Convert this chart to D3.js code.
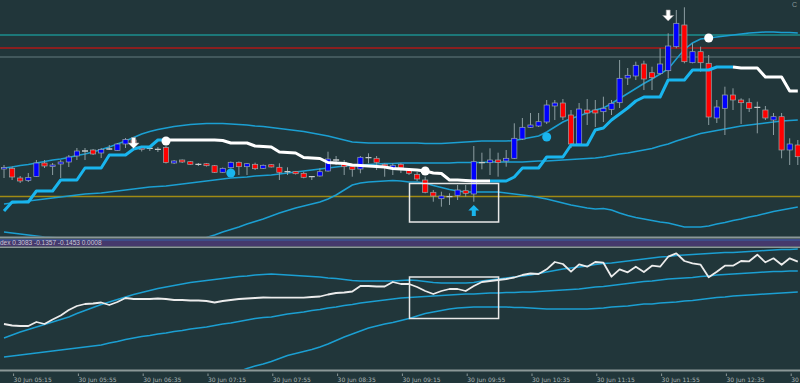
<!DOCTYPE html>
<html><head><meta charset="utf-8">
<script src="https://cdn.jsdelivr.net/npm/d3@7"></script>
<style>html,body{margin:0;padding:0;background:#21363a;overflow:hidden}</style>
</head><body><svg id="c" width="800" height="383"></svg>
<script>
// ---------- DATA ----------
const startTime = "05:10";
const barCount = 99;
const parseT = d3.timeParse("%H:%M"), fmtT = d3.timeFormat("%H:%M");
const times = d3.range(barCount).map(i => fmtT(d3.timeMinute.offset(parseT(startTime), 5 * i)));
const tickTimes = ["05:15","05:55","06:35","07:15","07:55","08:35","09:15","09:55","10:35","11:15","11:55","12:35","13:15"];
const dateLabel = "30 Jun";

const open = [71,71.5,62,59.5,63.5,77,73.5,76,78,84, 89,90,87,91,89.5,96,100,92.7,91.7,90.7,
 92.5,77,80,78.3,75.6,76.3,74.3,67.7,72.3,77.7, 73.3,75.7,71.7,75.3,72.7,68.3,68.3,66.7,63.3,64,
 69,80,77.7,73.3,71,82.3,81.7,75.7,71.7,75.7, 70,65.7,60,47.7,41.3,43.3,44.7,49.3,46,77.3,
 77.3,80,79,81.7,101,112.7,114,118,134,137, 125,96,130,130,128.3,130.7,137.3,162,164,176,
 167.3,166.7,169.3,193.3,215,177.3,188.3,176.7,122,131.7, 145,140,137.3,132.7,130,120,123.3,90,95];
const close = [72.5,63,59,62.5,77,74,75,78,83,89, 89,86,90.5,91,96,100.5,96,90.7,91.7,90.7,
 77.5,79,78,75.7,75.6,74.3,67.7,71.7,77.7,73.3, 76.3,71.3,74.7,73,67.7,68.3,66.3,62.7,63.3,68.3,
 81,80,73.3,70.7,82.7,82.3,77.7,73.3,74.7,72.3, 66.7,61,47.7,44,44,43.3,50,46.7,78.3,77.7,
 80,77.7,81.7,101.7,112.7,115,118.3,135,137,123, 96,131,127,127,131.7,136.7,161.7,164.7,174.7,161,
 162.3,176,194,216.7,178.3,188.3,177.3,123,133,145, 140,137.3,131.7,132.7,122,123.3,90,96,83.3];
const high = [75,73.5,64,67,80,80,77,80,85,92, 92,91,92,95,97,102,101,94,94,93,
 94,80,80.5,79,77,77,75,72.5,78.5,78.5, 77,77.3,75.5,76,76.7,72.7,69,68.3,64,71.7,
 88.3,84,80,75,84,86.7,84,76.7,76.7,77, 72,68,63.3,50,48.3,46.7,55,55,94,87.3,
 91.7,87.3,90,116.7,122,127,127,140,140,141, 130,137,141,140,143.3,140,180,172,178.3,179.3,
 173.3,191.7,206.7,230,232.7,196.7,193.3,185,140,153.3, 151.7,141.7,141.7,138.3,134,127,127,101.7,100];
const low = [62,60,57,58,63,72,65,62,73,80, 80,85,82,90,89,92,95,88.5,89,88,
 76.5,76,77,75,74,73.5,67,67,71.5,65, 65,70,71,72.5,60,65,65.5,61.7,60,63.3,
 68.3,75,65,63.3,66.7,76.7,70,63.3,65,67, 65,59,46.7,38.3,33.3,35,40,43.3,38.3,70.7,
 65,63.3,73.3,81,100,112,113,116,120,120, 92,94,115,113,118,125,132,155,160,150,
 150,165,161.7,191.7,176.7,176.7,168.3,115,117,105, 130,116,128,106.7,120,105,81.7,75,75];

// SuperTrend-like stepped line and the bars where its direction starts
const superTrend = [29,38,38,38,49,49,49,60,60,60, 72,72,72,85,85,85,91,93,93,100,
 100,100,100,100,100,100,100,99.5,97,97, 97,94,93.5,93,88,87.5,87,82.5,82,81.5,
 77.5,77,76.5,75,74.5,74,73.5,73,71.5,71, 70.5,70,69,67,66.5,60,60,59.5,59,59,
 59,59,59,63,72,72,72,83,83,83, 95,95,95,110,112,120,126,132,139,143,
 143,143,160,160,160,170,170,170,173,173, 173,172,172,172,163,163,163,149,149];
const trendStart = [0, 20, 60, 90];
const trendUp = [true, false, true, false];

// Bollinger-style bands on price
const bbUpper = [72,73,74.5,75.5,77,78.5,80,81,82.5,84.5, 86,88,90.5,93,96,99,102.5,106,108.5,110.5,
 112,113.5,114.5,115.5,116,116.5,116.5,116.5,116,115.5, 115,114,113.5,112.5,111.5,110.5,109.5,108.5,107,105.5,
 104,102,100,98,97.5,97,97,97,97,97, 97,97,96.5,96.5,96.5,97,97.5,98,98.5,99,
 99,99,99,99.5,101,102.5,104,108,113,118, 121.5,124,127,130,132,136.5,141.5,146.5,151.5,156.5,
 161,166,171,181,190.5,197,201,202,203,204, 205,206,207,207.5,208,208,207.5,207.5,207];
const bbMiddle = [36,37,38,39,40,41,42,43,44,45, 46,46.5,47,48,49,50,51,52,53,53.5,
 54,55,56,57,58,59,60,61,62,62.5, 63,64,64.5,65,66,67,68,69,70,71,
 72,73,74,74.5,75,75.5,76,76.5,76.5,77, 77,77,77,77,77,77,77.5,77.5,77.5,77.5,
 78,78,78,78,78,78.5,79,79,79.5,80, 80.5,81,81.5,82,83,84.5,86,87,88.5,90,
 91.5,94,96,99,101.5,104,106.5,108,109.5,111, 112.5,114,115,116,117,118,119,119.5,120];
const bbLower = [8,7,6,5,4,3,2.5,2,1.5,0, -2,-4,-6,-8,-9,-10,-10,-10,-9,-8,
 -6,-4,-2,0,1.5,2.5,5,8,10.5,13, 16,18.5,21,24,27,29.5,32,34,36,38,
 41,45,50,55,57,58,58.5,59,59.5,59, 58,58,57,54.5,52.5,50.5,49,48,48,48,
 48,48,47,46,45,44,42.5,41,39,37, 35,33.5,32,31,31.5,30,27,24.5,22.5,21,
 19.5,18,17,15,13,13,13,14,16,17.5, 19.5,21,23,24.5,26.5,28.5,30,31.5,33];

// horizontal price levels
const levelValues = [205, 192, 183, 43.5];

// signal markers
const dotBars = [20, 52, 87, 28, 67];
const dotValues = [99, 69, 202, 67, 103];
const dotKinds = ["sell", "sell", "sell", "buy", "buy"];
const arrowBars = [16, 82, 58];
const arrowValues = [91.5, 219, 35];
const arrowKinds = ["down", "down", "up"];

// highlight boxes
const boxBars = [50, 61];
const priceBoxValues = [18, 56.5];
const indBoxValues = [51.5, 93];

// lower indicator
const indLabel = "dex 0.3083 -0.1357 -0.1453 0.0008";
const indWhite = [46,44.5,44,44,48,46,50.5,54.5,60,64, 66,66.5,67.5,65,68,72,71,71,71,71.5,
 71,70,70,69.5,69.5,69,67.5,69,70,71, 71.5,72,72.5,72.3,72.3,72.3,72.3,72.3,73,73.5,
 75.5,77,77.5,78.5,84,84,83.5,83.5,88,86, 86,83,79,76,79,81,81,79,84,88,
 89,90,91,92.5,95,96.5,96,100.7,108,106, 98.3,105.7,103.3,108,107.3,93.3,100.7,97.7,103.3,98,
 104.3,103.3,113.3,116.7,109,106.7,105.3,92.7,98.3,104.3, 104.3,109,108.7,115.3,107.7,111.7,105.3,111.7,108.3];
const indUpper = [32,35,38,40.5,43,45.5,48,50.5,53,56.5, 59.5,62.5,65.5,68,70.5,73,75.5,77.5,79.5,81.5,
 83,84.5,86,87.5,88.5,89.5,90.5,91.5,92.5,93.5, 94,95,95.5,96,95.5,95,94.5,94,93.5,93,
 92,91.5,90.5,89.5,89,89,89,89,89,89.5, 90,89.5,88.5,87.5,87,87,87,87,87.5,89,
 90,91,92,93,94,95,96.5,98,99.5,101, 102,103,104,105.5,106.5,107,108,109,110,111,
 112,113,113.5,114.5,115,115.5,116,116.5,117,117.5, 117.5,118,118.5,119,119.5,120,120.5,120.5,121];
const indMiddle = [13,14,15,16,17,18,19,20,21,22, 23,24,25,27,28.5,30.5,32,33.5,34.5,36,
 37,38.5,39.5,41,42,43,44.5,46,47,48.5, 50,51.5,52.5,53,54.5,56,57,58,59.5,60.5,
 62,63,64.5,65.5,67,68,69,70,71,72, 72.5,73,73.5,74,74.5,75,75.5,76,76,76.5,
 77,77,77.5,77.5,78,78,78.5,79,79.5,80, 80.5,81,82,83,83.5,84.5,85.5,86.5,87.5,88.5,
 89,90,91,91.5,92,92.5,93.5,94,95,95.5, 96,96.5,97,97.5,98,98.5,98.5,99,99];
const indLower = [null,null,null,null,null,null,null,null,null,null, null,null,null,null,null,null,null,null,null,null,
 null,null,null,null,null,null,null,null,-6,-1.5, 1.5,4,6,8.5,11.5,14.5,16.5,18.5,20.5,23,
 26,29.5,33,36,39,42,44,46,47.5,49.5, 51.5,54,56.5,58,59.5,61,62,62.5,63,63,
 63,63,63,62.5,62.5,62,61.5,61,61,61, 61,61,61,61.5,62,63,63.5,64,65,66,
 66,67,67.5,68,69,69.5,70.5,71.5,72.5,73, 74,74.5,75,75.5,76,76.5,77,77.5,78];

// ---------- DRAW ----------
const W = 800, H = 383;
const svg = d3.select("#c");
svg.append("rect").attr("width", W).attr("height", H).attr("fill", "#21363a");

const x = d3.scalePoint().domain(times).range([4, 4 + 8.1 * (barCount - 1)]);
const yP = d3.scaleLinear().domain([0, 240]).range([240, 0]);
const yI = d3.scaleLinear().domain([0, 122]).range([370, 248]);

const defs = svg.append("defs");
defs.append("clipPath").attr("id", "clipP").append("rect").attr("x", 0).attr("y", 0).attr("width", W).attr("height", 236.5);
defs.append("clipPath").attr("id", "clipI").append("rect").attr("x", 0).attr("y", 248).attr("width", W).attr("height", 121);

const gP = svg.append("g").attr("clip-path", "url(#clipP)");
const gI = svg.append("g").attr("clip-path", "url(#clipI)");

// levels
const levelColors = ["#1b8f8f", "#8a1f1f", "#4e6468", "#a08a14"];
const levelWidths = [1.5, 2, 1.5, 1.5];
levelValues.forEach((v, k) => {
  gP.append("line").attr("x1", 0).attr("x2", W).attr("y1", yP(v)).attr("y2", yP(v))
    .attr("stroke", levelColors[k]).attr("stroke-width", levelWidths[k]);
});

// bands
const lineP = arr => d3.line().defined(d => d != null).x((d, i) => x(times[i])).y(d => yP(d))(arr);
[bbUpper, bbMiddle, bbLower].forEach(arr => {
  gP.append("path").attr("d", lineP(arr)).attr("fill", "none").attr("stroke", "#1b9fd2").attr("stroke-width", 1.5);
});

// candles
const cg = gP.append("g");
times.forEach((t, i) => {
  const cx = x(t);
  cg.append("line").attr("x1", cx).attr("x2", cx).attr("y1", yP(high[i])).attr("y2", yP(low[i]))
    .attr("stroke", "#8c9da1").attr("stroke-width", 1);
  const o = open[i], c = close[i];
  if (Math.abs(o - c) < 0.8) {
    cg.append("line").attr("x1", cx - 3).attr("x2", cx + 3).attr("y1", yP(o)).attr("y2", yP(o))
      .attr("stroke", "#c4cacb").attr("stroke-width", 1.3);
  } else {
    const top = yP(Math.max(o, c)), bot = yP(Math.min(o, c));
    cg.append("rect").attr("x", cx - 2.6).attr("y", top).attr("width", 5.2).attr("height", Math.max(1.5, bot - top))
      .attr("fill", c > o ? "#0000ff" : "#ff0000").attr("stroke", "#98a6aa").attr("stroke-width", 0.7);
  }
});

// supertrend
trendStart.forEach((s, k) => {
  const e = k + 1 < trendStart.length ? trendStart[k + 1] : barCount - 1;
  const idx = d3.range(s, e + 1);
  const ln = d3.line().x(i => x(times[i])).y(i => yP(superTrend[i]));
  gP.append("path").attr("d", ln(idx)).attr("fill", "none")
    .attr("stroke", trendUp[k] ? "#19b5ee" : "#ffffff").attr("stroke-width", 3)
    .attr("stroke-linejoin", "round");
});

// dots
dotBars.forEach((b, k) => {
  gP.append("circle").attr("cx", x(times[b])).attr("cy", yP(dotValues[k])).attr("r", 4.5)
    .attr("fill", dotKinds[k] === "sell" ? "#ffffff" : "#19b5ee");
});

// arrows
arrowBars.forEach((b, k) => {
  const cx = x(times[b]), ty = yP(arrowValues[k]);
  const down = arrowKinds[k] === "down";
  const s = down ? -1 : 1;
  const p = `M0,0 L-5.5,${5.5*s} L-2,${5.5*s} L-2,${11*s} L2,${11*s} L2,${5.5*s} L5.5,${5.5*s} Z`;
  gP.append("path").attr("d", p).attr("transform", `translate(${cx},${ty})`)
    .attr("fill", down ? "#ffffff" : "#19b5ee").attr("stroke", down ? "#9a9a9a" : "none").attr("stroke-width", 0.6);
});

// price box
const bx0 = x(times[boxBars[0]]) + 0.5, bx1 = x(times[boxBars[1]]) + 0.5;
gP.append("rect").attr("x", bx0).attr("y", yP(priceBoxValues[1])).attr("width", bx1 - bx0)
  .attr("height", yP(priceBoxValues[0]) - yP(priceBoxValues[1]))
  .attr("fill", "none").attr("stroke", "#e8e8e8").attr("stroke-width", 1.5);

// indicator
const lineI = arr => d3.line().defined(d => d != null).x((d, i) => x(times[i])).y(d => yI(d))(arr);
[indUpper, indMiddle, indLower].forEach(arr => {
  gI.append("path").attr("d", lineI(arr)).attr("fill", "none").attr("stroke", "#1b9fd2").attr("stroke-width", 1.5);
});
gI.append("path").attr("d", lineI(indWhite)).attr("fill", "none").attr("stroke", "#ececec").attr("stroke-width", 1.8)
  .attr("stroke-linejoin", "round");
gI.append("rect").attr("x", bx0).attr("y", yI(indBoxValues[1])).attr("width", bx1 - bx0)
  .attr("height", yI(indBoxValues[0]) - yI(indBoxValues[1]))
  .attr("fill", "none").attr("stroke", "#e8e8e8").attr("stroke-width", 1.5);

// separators and indicator header strip
svg.append("rect").attr("x", 0).attr("y", 239).attr("width", W).attr("height", 7.5).attr("fill", "#45396c");
svg.append("rect").attr("x", 0).attr("y", 239).attr("width", W).attr("height", 2).attr("fill", "#3a5596").attr("opacity", 0.7);
svg.append("line").attr("x1", 0).attr("x2", W).attr("y1", 237.5).attr("y2", 237.5).attr("stroke", "#8c9898").attr("stroke-width", 2);
svg.append("line").attr("x1", 0).attr("x2", W).attr("y1", 247.2).attr("y2", 247.2).attr("stroke", "#8c9898").attr("stroke-width", 1.5);
svg.append("text").attr("x", 0).attr("y", 245.3).text(indLabel)
  .attr("font-family", "Liberation Sans, Arial, sans-serif").attr("font-size", 6.5).attr("fill", "#c9c6d6");
svg.append("line").attr("x1", 0).attr("x2", W).attr("y1", 370.5).attr("y2", 370.5).attr("stroke", "#8c9898").attr("stroke-width", 2);

// time axis
const axis = d3.axisBottom(x).tickValues(tickTimes).tickFormat(t => dateLabel + " " + t).tickSize(2.5).tickPadding(0);
const ga = svg.append("g").attr("transform", "translate(0,373.5)").call(axis);
ga.select(".domain").remove();
ga.selectAll(".tick line").attr("stroke", "#8c9898").attr("transform", "translate(1,0)");
ga.selectAll(".tick text").attr("text-anchor", "start").attr("dy", 0).attr("y", 8.3).attr("x", 1)
  .attr("fill", "#aab4b4").attr("font-size", 6).attr("font-family", "DejaVu Sans, sans-serif");

svg.append("text").attr("x", 792).attr("y", 7).text("C").attr("font-size", 7)
  .attr("font-family", "Liberation Sans, Arial, sans-serif").attr("fill", "#8a9a9a");
</script>
</body></html>
